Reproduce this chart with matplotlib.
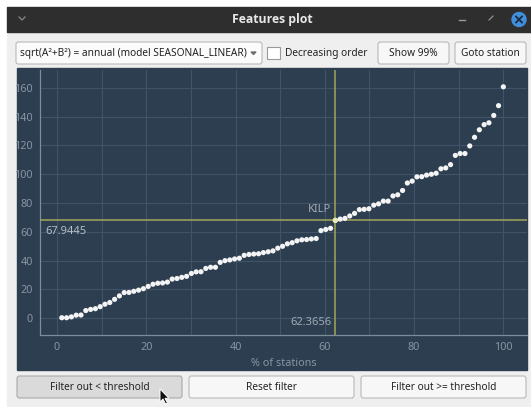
import numpy as np
import matplotlib.pyplot as plt
from matplotlib.patches import Rectangle, FancyBboxPatch, Circle, Polygon

plt.rcParams['font.family'] = ['Noto Sans', 'DejaVu Sans']

# feature value per station, sorted increasing (93 stations)
values = [0.2, 0.2, 0.8, 2.0, 2.1, 5.2, 6.0, 6.5, 7.9, 9.6,
          10.8, 13.0, 15.4, 17.7, 17.8, 18.6, 19.4, 20.4, 22.0, 23.5,
          24.2, 24.4, 25.0, 27.1, 27.5, 28.3, 29.0, 31.0, 32.1, 32.2,
          34.5, 35.3, 35.3, 38.7, 39.9, 40.4, 41.1, 41.6, 43.6, 44.2,
          44.5, 44.7, 45.5, 46.1, 46.7, 48.6, 49.9, 51.6, 52.4, 53.7,
          54.4, 54.6, 55.0, 55.3, 60.8, 61.6, 62.4, 67.9445, 68.8, 69.3,
          71.0, 72.8, 75.4, 75.6, 76.0, 78.5, 79.4, 81.3, 81.3, 84.9,
          85.7, 88.7, 93.9, 95.2, 98.2, 98.3, 99.4, 100.0, 100.7, 103.8,
          104.4, 106.7, 113.1, 114.4, 114.4, 119.7, 125.7, 130.9, 134.5, 135.8,
          140.9, 147.7, 160.8]
n_stations = len(values)
pct = np.arange(1, n_stations + 1) / n_stations * 100

station = "KILP"
station_idx = 57
thr_x = 62.3656
thr_y = 67.9445

xticks = [0, 20, 40, 60, 80, 100]
yticks = [0, 20, 40, 60, 80, 100, 120, 140, 160]

combo_text = "sqrt(A²+B²) = annual (model SEASONAL_LINEAR)"
buttons_bottom = ["Filter out < threshold", "Reset filter", "Filter out >= threshold"]

UI_FS = 7.3

W, H = 531, 407
fig = plt.figure(figsize=(W / 100, H / 100), dpi=100)
fig.patch.set_facecolor('white')

# window chrome, drawn in pixel coordinates
bg = fig.add_axes([0, 0, 1, 1], zorder=0)
bg.set_xlim(0, W)
bg.set_ylim(H, 0)
bg.axis('off')

bg.add_patch(Rectangle((7, 32), W - 7, H - 32, color='#efefef'))
bg.add_patch(Rectangle((7, 7), W - 7, 25, color='#2e2e2e'))
bg.text(272, 19.5, "Features plot", color='#e8e8e8', fontsize=8.8,
        fontweight='bold', family='Open Sans', ha='center', va='center')
bg.plot([19, 22, 25], [17, 20, 17], color='#8a8a8a', lw=0.9)
bg.plot([459, 465], [20, 20], color='#9a9a9a', lw=1.0)
bg.plot([489, 491], [20, 18], color='#9a9a9a', lw=0.8)
bg.plot([491.5, 493], [17.5, 16], color='#9a9a9a', lw=0.8)
bg.add_patch(Circle((519, 19.5), 7, color='#3f8fdc'))
bg.plot([516, 522], [16.5, 22.5], color='#1e2a3a', lw=1.3)
bg.plot([516, 522], [22.5, 16.5], color='#1e2a3a', lw=1.3)


def button(x0, x1, y0, y1, label, face='#f7f7f7', edge='#b9b9b9', ha='center'):
    bg.add_patch(FancyBboxPatch((x0, y0), x1 - x0, y1 - y0,
                                boxstyle='round,pad=0,rounding_size=2.5',
                                fc=face, ec=edge, lw=0.8))
    if label:
        tx = (x0 + x1) / 2 if ha == 'center' else x0 + 4
        bg.text(tx, (y0 + y1) / 2 + 0.5, label, fontsize=UI_FS, color='#232323',
                ha=ha, va='center')


# top toolbar
button(16, 262, 42, 64, combo_text, face='#fbfbfb', ha='left')
bg.add_patch(Polygon([[251, 52], [256, 52], [253.5, 54.5]], closed=True, color='#707070'))
bg.add_patch(Rectangle((267, 46.5), 12.5, 12.5, fc='white', ec='#9a9a9a', lw=0.8))
bg.text(285, 53.5, "Decreasing order", fontsize=UI_FS, color='#232323', va='center')
button(378, 449, 42, 64, "Show 99%")
button(455, 526, 42, 64, "Goto station")

# dark plot panel
panel_col = '#2c3e50'
bg.add_patch(Rectangle((17, 68), 510, 302, color=panel_col))

# bottom buttons
button(17, 182, 376, 398, buttons_bottom[0], face='#dadada', edge='#a9a9a9')
button(189, 354, 376, 398, buttons_bottom[1])
button(361, 526, 376, 398, buttons_bottom[2])

# mouse cursor
cx, cy = 160, 389
arrow = np.array([[0, 0], [0, 13], [3, 10], [5.5, 15], [7.5, 14], [5, 9.3], [9, 9.3]])
bg.add_patch(Polygon(arrow + [cx, cy], closed=True, fc='#111111', ec='white', lw=0.7))

# the plot
ax = fig.add_axes([40 / W, (H - 335) / H, 487 / W, 265 / H], zorder=2)
ax.set_facecolor(panel_col)
ax.set_xlim(-3.81, 105.3)
ax.set_ylim(-11.8, 172.5)
for s in ['top', 'right']:
    ax.spines[s].set_visible(False)
for s in ['left', 'bottom']:
    ax.spines[s].set_color('#7f8d9b')
    ax.spines[s].set_linewidth(0.9)

ax.set_xticks(xticks)
ax.set_xticks(np.arange(0, 101, 10), minor=True)
ax.set_yticks(yticks)
ax.tick_params(which='both', length=0, colors='#8895a3', labelsize=7.8, pad=5)
ax.grid(which='both', axis='x', color='#415367', lw=0.8)
ax.grid(which='major', axis='y', color='#415367', lw=0.8)
ax.set_axisbelow(True)
ax.set_xlabel("% of stations", color='#8895a3', fontsize=7.8, labelpad=4)

ax.axhline(thr_y, color='#a3a65a', lw=1.1, zorder=3)
ax.axvline(thr_x, color='#a3a65a', lw=1.1, zorder=3)

ax.scatter(pct, values, s=14, color='#f4f4f4', edgecolors='none', zorder=4)
ax.scatter([pct[station_idx]], [values[station_idx]], s=14, color='#e9e9b4',
           edgecolors='none', zorder=5)

ax.annotate(f"{thr_y:.4f}", xy=(0, thr_y), xycoords=('axes fraction', 'data'),
            xytext=(3.6, -4), textcoords='offset points', ha='left', va='top',
            fontsize=8, color='#b5bdc6')
ax.annotate(f"{thr_x:.4f}", xy=(thr_x, 0), xycoords=('data', 'axes fraction'),
            xytext=(-2.5, 5), textcoords='offset points', ha='right', va='bottom',
            fontsize=8, color='#a0a9b3')
ax.annotate(station, xy=(pct[station_idx], values[station_idx]),
            xytext=(-3, 4), textcoords='offset points', ha='right', va='bottom',
            fontsize=8, color='#a0a9b3')

fig.savefig('out.png', dpi=100)
